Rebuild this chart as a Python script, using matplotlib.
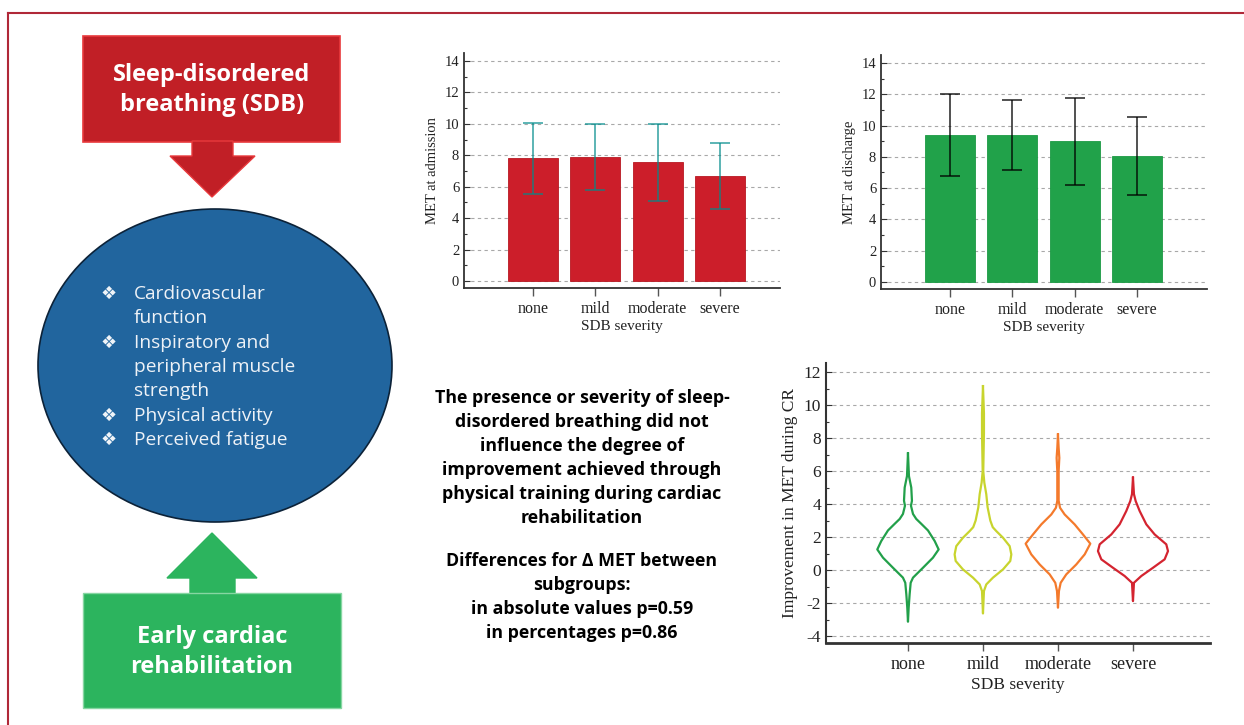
import matplotlib
matplotlib.use("Agg")
import matplotlib.pyplot as plt
import matplotlib.patches as patches
from matplotlib.ticker import MultipleLocator

plt.rcParams["axes.unicode_minus"] = False

# ---- data ----
severity = ["none", "mild", "moderate", "severe"]

met_admission = [7.8, 7.9, 7.55, 6.7]
met_admission_sd = [2.27, 2.12, 2.47, 2.1]

met_discharge = [9.4, 9.4, 9.0, 8.05]
met_discharge_sd = [2.6, 2.22, 2.78, 2.52]

# violin outlines: y level and half width (category units)
none_y = [7.07, 5.7, 5.0, 4.2, 3.9, 3.4, 3.1, 2.8, 2.4, 1.76, 1.25, 0.75, 0.14, -0.46, -0.77, -1.47, -2.3, -3.13]
none_hw = [0, .013, .044, .053, .04, .067, .11, .178, .267, .356, .409, .333, .2, .067, .036, .022, .009, 0]
mild_y = [11.15, 9.5, 8.3, 6.0, 5.3, 4.6, 3.8, 3.0, 2.6, 2.36, 1.96, 1.45, 0.95, 0.55, 0.04, -0.46, -0.87, -1.27, -2.63]
mild_hw = [0, .013, .013, .004, .018, .044, .062, .098, .13, .178, .267, .356, .378, .364, .267, .133, .044, .013, 0]
moderate_y = [8.22, 7.4, 6.8, 6.0, 4.2, 3.78, 3.37, 2.77, 2.16, 1.6, 0.95, 0.34, -0.26, -0.77, -1.27, -2.28]
moderate_hw = [0, .009, .018, .009, .009, .027, .089, .222, .333, .431, .356, .244, .111, .036, .013, 0]
severe_y = [5.6, 4.6, 4.18, 3.58, 2.77, 2.16, 1.56, 1.15, 0.65, 0.14, -0.36, -0.77, -1.88]
severe_hw = [0, .013, .036, .089, .178, .289, .444, .467, .422, .267, .111, .013, 0]

violin_colors = ["#22a04a", "#c8d42e", "#f47a2c", "#d42430"]

bullets = ["Cardiovascular\nfunction", "Inspiratory and\nperipheral muscle\nstrength",
           "Physical activity", "Perceived fatigue"]

summary_text = ("The presence or severity of sleep-\ndisordered breathing did not\n"
                "influence the degree of\nimprovement achieved through\n"
                "physical training during cardiac\nrehabilitation")
pvalue_text = ("Differences for \u0394 MET between\nsubgroups:\n"
               "in absolute values p=0.59\nin percentages p=0.86")

W, H = 1244, 725
fig = plt.figure(figsize=(W / 100, H / 100), dpi=100)

SERIF = "Liberation Serif"
SANS = ["Open Sans", "DejaVu Sans"]


def fig_rect(left, top, right, bottom):
    return [left / W, 1 - bottom / H, (right - left) / W, (bottom - top) / H]


def style_axis(ax, lab_size, tick_size, xtick_len):
    for s in ["top", "right"]:
        ax.spines[s].set_visible(False)
    for s in ["left", "bottom"]:
        ax.spines[s].set_color("#333333")
        ax.spines[s].set_linewidth(1.3)
    ax.yaxis.set_major_locator(MultipleLocator(2))
    ax.yaxis.set_minor_locator(MultipleLocator(1))
    ax.tick_params(axis="y", which="major", direction="in", length=4, width=0.8,
                   colors="#333333", labelsize=tick_size, labelcolor="#222222")
    ax.tick_params(axis="y", which="minor", direction="in", length=2.5, width=0.8, colors="#333333")
    ax.tick_params(axis="x", which="major", direction="out", length=xtick_len, width=1,
                   colors="#555555", labelsize=lab_size, labelcolor="#222222")
    ax.grid(axis="y", which="major", linestyle=(0, (3, 3)), color="#a8a8a8", linewidth=0.8)
    ax.set_axisbelow(True)
    for lbl in ax.get_xticklabels() + ax.get_yticklabels():
        lbl.set_family(SERIF)


# ---- bar chart: admission ----
x = list(range(len(severity)))
ax1 = fig.add_axes(fig_rect(464, 53, 780, 288))
ax1.bar(x, met_admission, width=0.8, color="#cc1e2a", edgecolor="#b81822", linewidth=0.6, zorder=2)
ax1.errorbar(x, met_admission, yerr=met_admission_sd, fmt="none", ecolor="#008b8b",
             alpha=0.75, elinewidth=1.2, capsize=7, capthick=1.2, zorder=3)
ax1.set_xlim(-1.107, 3.963)
ax1.set_ylim(-0.45, 14.51)
ax1.set_xticks(x)
ax1.set_xticklabels(severity)
style_axis(ax1, 11.5, 10.5, 6)
ax1.set_xlabel("SDB severity", family=SERIF, fontsize=11, color="#222222", labelpad=2)
ax1.set_ylabel("MET at admission", family=SERIF, fontsize=10.5, color="#222222", labelpad=4)

# ---- bar chart: discharge ----
ax2 = fig.add_axes(fig_rect(881, 55, 1207, 289))
ax2.bar(x, met_discharge, width=0.8, color="#21a24a", edgecolor="#1c9a44", linewidth=0.6, zorder=2)
ax2.errorbar(x, met_discharge, yerr=met_discharge_sd, fmt="none", ecolor="black",
             alpha=0.8, elinewidth=1.2, capsize=7, capthick=1.2, zorder=3)
ax2.set_xlim(-1.107, 4.12)
ax2.set_ylim(-0.45, 14.51)
ax2.set_xticks(x)
ax2.set_xticklabels(severity)
style_axis(ax2, 11.5, 10.5, 6)
ax2.set_xlabel("SDB severity", family=SERIF, fontsize=11, color="#222222", labelpad=2)
ax2.set_ylabel("MET at discharge", family=SERIF, fontsize=10.5, color="#222222", labelpad=4)

# ---- violin outlines ----
ax3 = fig.add_axes(fig_rect(826, 363, 1210, 643))
profiles = [(none_y, none_hw), (mild_y, mild_hw), (moderate_y, moderate_hw), (severe_y, severe_hw)]
for i, ((ys, hws), col) in enumerate(zip(profiles, violin_colors)):
    xs = [i + h for h in hws] + [i - h for h in reversed(hws)]
    yy = list(ys) + list(reversed(ys))
    ax3.plot(xs, yy, color=col, linewidth=1.6, solid_joinstyle="round", zorder=3)
ax3.set_xlim(-1.093, 4.027)
ax3.set_ylim(-4.42, 12.55)
ax3.set_xticks(x)
ax3.set_xticklabels(severity)
style_axis(ax3, 13, 12.5, 6)
ax3.spines["bottom"].set_linewidth(2)
ax3.spines["left"].set_linewidth(1.5)
ax3.set_xlabel("SDB severity", family=SERIF, fontsize=12.5, color="#222222", labelpad=3)
ax3.set_ylabel("Improvement in MET during CR", family=SERIF, fontsize=12.5, color="#222222", labelpad=4)

# ---- diagram overlay in pixel coordinates ----
ov = fig.add_axes([0, 0, 1, 1], zorder=-1)
ov.set_xlim(0, W)
ov.set_ylim(H, 0)
ov.axis("off")

# frame
ov.plot([8, W], [13, 13], color="#b02838", linewidth=1.5)
ov.plot([8, 8], [13, H], color="#b02838", linewidth=1.5)

red = "#c11f26"
green = "#2cb45e"
ov.add_patch(patches.Rectangle((83, 36), 257, 106, facecolor=red, edgecolor="#e8393c", linewidth=1.2))
ov.add_patch(patches.Polygon([(192, 141), (233, 141), (233, 156), (255, 156), (212, 197),
                              (170, 156), (192, 156)], closed=True, facecolor=red,
                             edgecolor="#e8393c", linewidth=1.0))
ov.add_patch(patches.Ellipse((215, 365.5), 354, 313, facecolor="#21659e", edgecolor="#0c2238", linewidth=1.2))
ov.add_patch(patches.Polygon([(212, 533), (257, 578), (235, 578), (235, 594), (190, 594),
                              (190, 578), (167, 578)], closed=True, facecolor=green,
                             edgecolor=green, linewidth=1.0))
ov.add_patch(patches.Rectangle((83, 593), 258, 115, facecolor=green, edgecolor="#86d6a2", linewidth=1.0))

ov.text(212, 90, "Sleep-disordered\nbreathing (SDB)", ha="center", va="center", color="white",
        fontsize=17, fontweight="bold", family=SANS, linespacing=1.38)
ov.text(212, 652, "Early cardiac\nrehabilitation", ha="center", va="center", color="white",
        fontsize=17, fontweight="bold", family=SANS, linespacing=1.34)

line_h = 24.3
yline = 294
for b in bullets:
    ov.text(109, yline, "\u2756", ha="center", va="center", color="#f0f4f8", fontsize=13, family=SANS)
    for part in b.split("\n"):
        ov.text(134, yline, part, ha="left", va="center", color="#eef2f7", fontsize=13.8, family=SANS)
        yline += line_h

ov.text(582, 458, summary_text, ha="center", va="center", color="black", fontsize=12.8,
        fontweight="bold", family=SANS, linespacing=1.44)
ov.text(582, 597, pvalue_text, ha="center", va="center", color="black", fontsize=12.8,
        fontweight="bold", family=SANS, linespacing=1.44)

fig.savefig("out.png", dpi=100)
